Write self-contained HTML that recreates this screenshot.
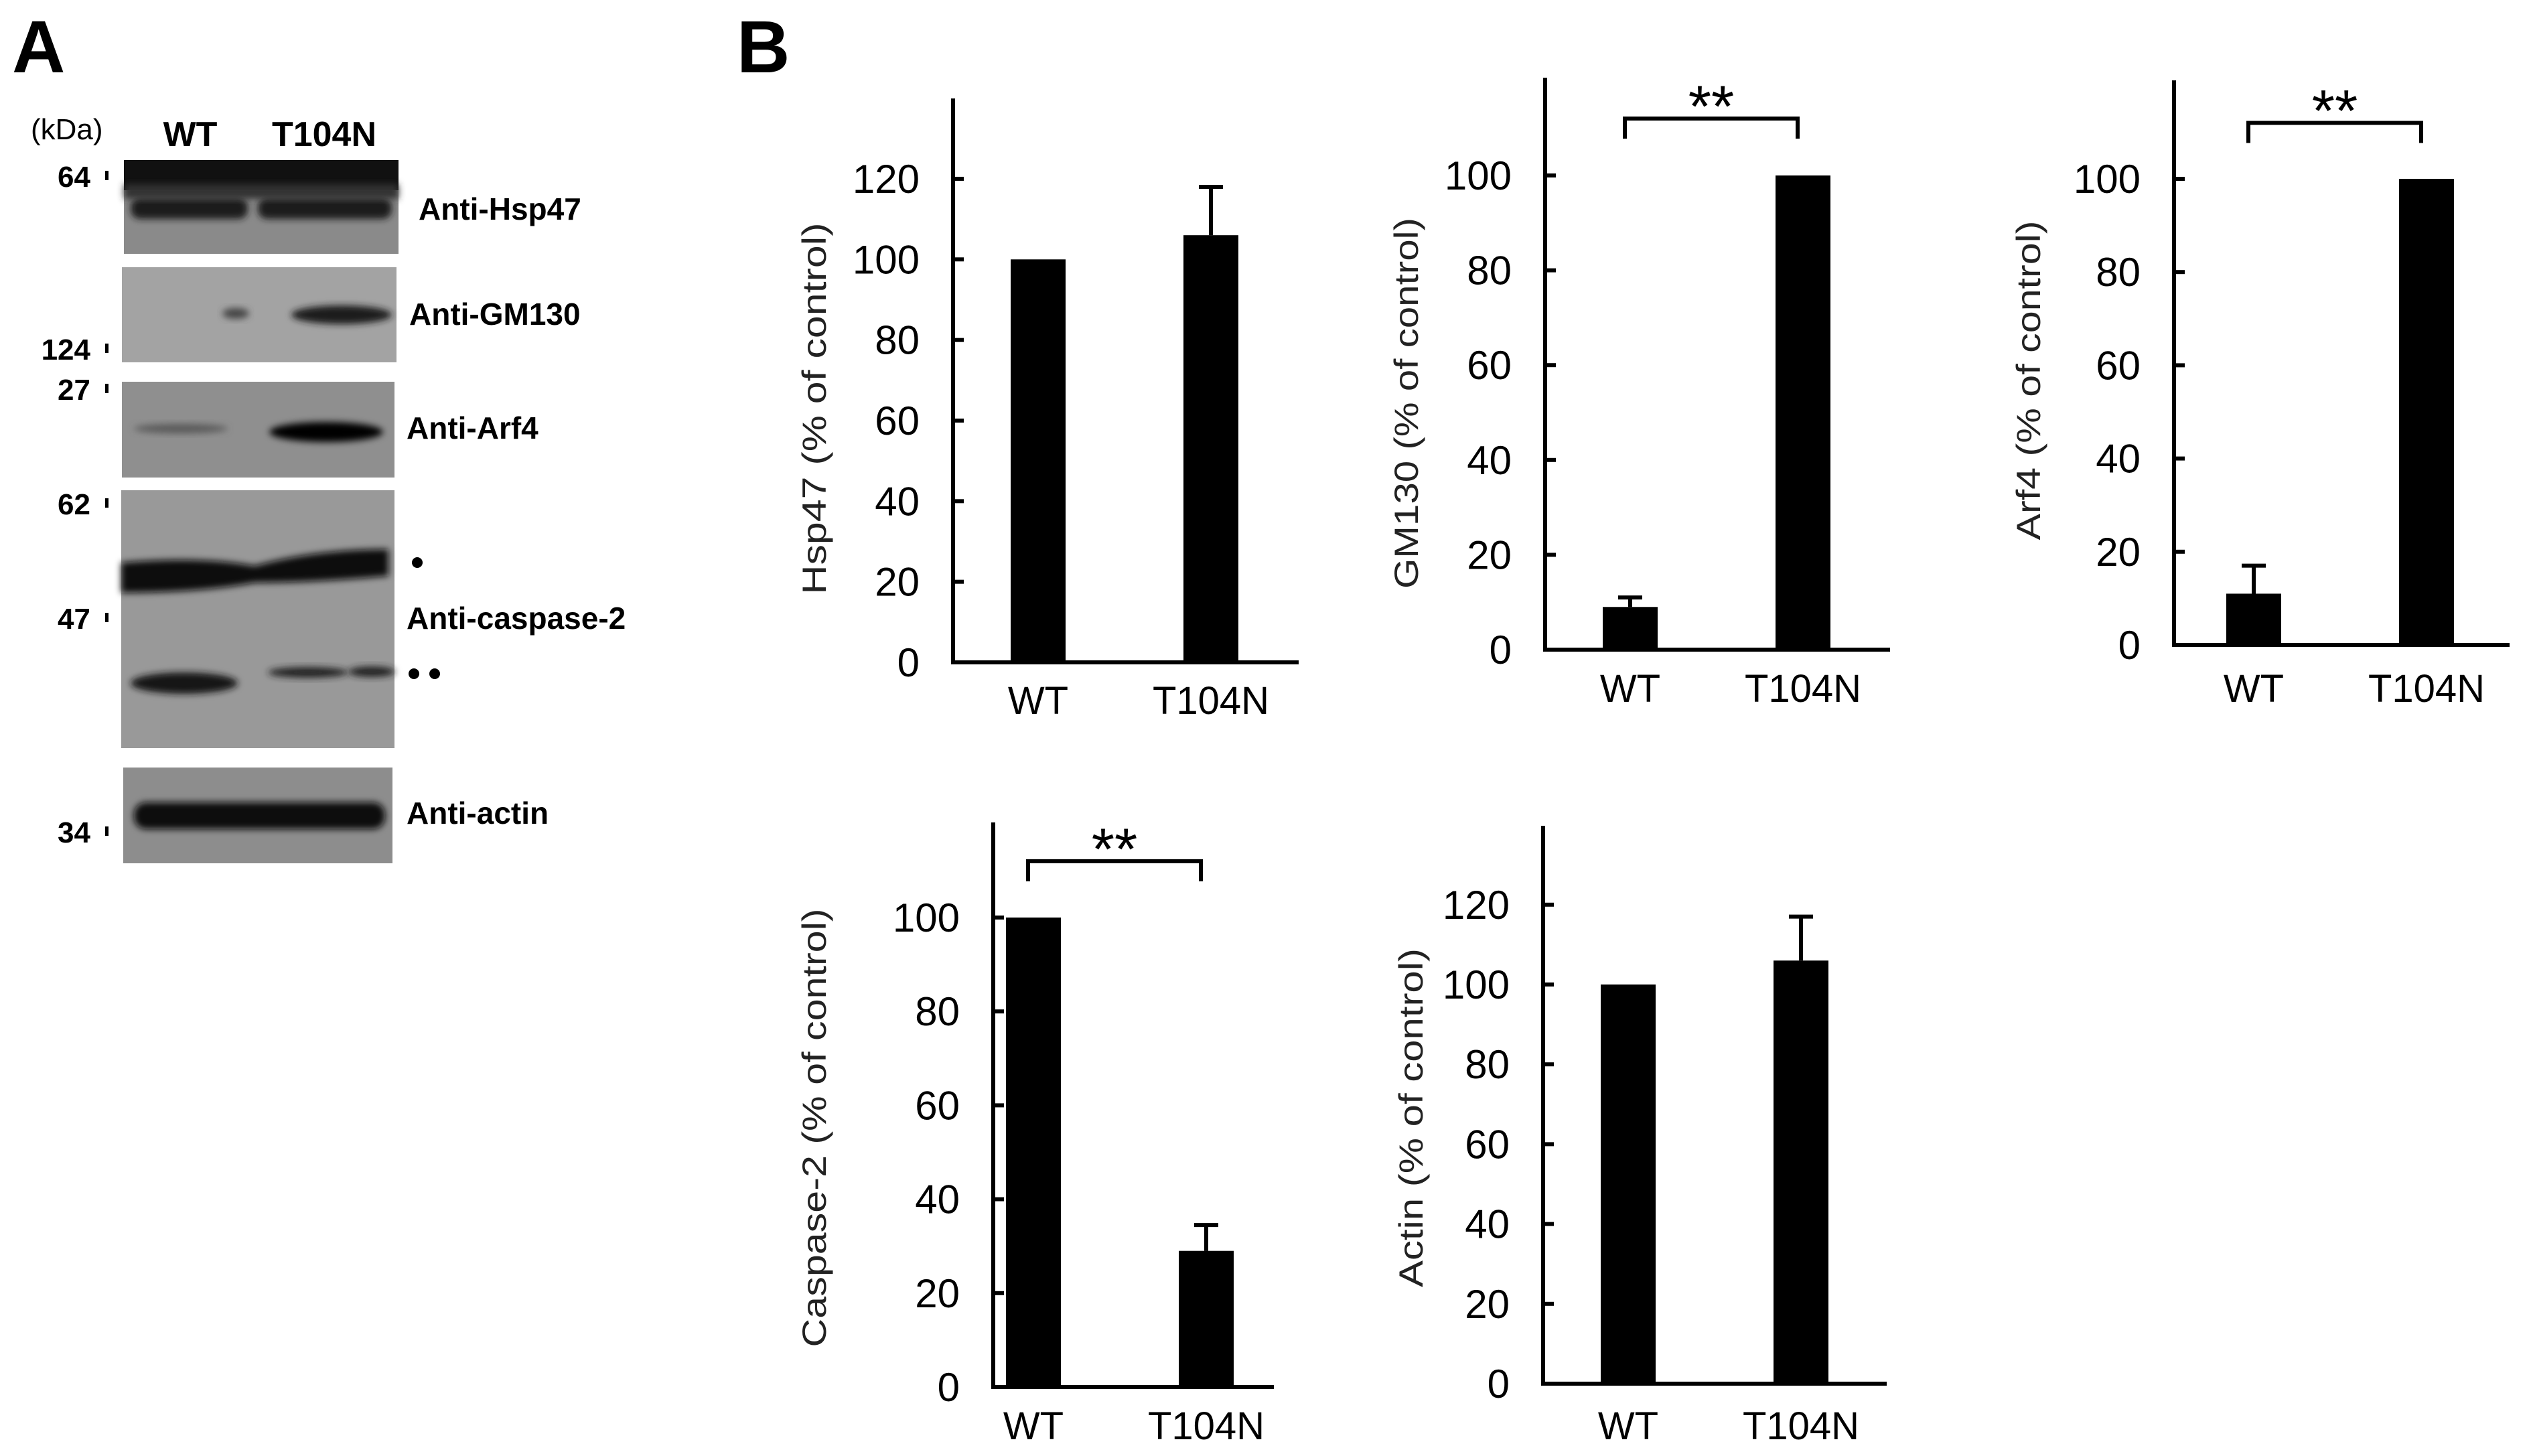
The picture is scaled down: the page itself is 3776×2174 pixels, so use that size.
<!DOCTYPE html>
<html><head><meta charset="utf-8"><style>
html,body{margin:0;padding:0;background:#fff;}
svg{display:block;}
text{font-family:"Liberation Sans",sans-serif;}
</style></head><body>
<svg id="fig" width="3776" height="2174" viewBox="0 0 3776 2174" xmlns="http://www.w3.org/2000/svg">
<defs>
<filter id="blur" x="-20%" y="-50%" width="140%" height="200%"><feGaussianBlur stdDeviation="9"/></filter>
<filter id="blur2" x="-20%" y="-50%" width="140%" height="200%"><feGaussianBlur stdDeviation="5"/></filter>
</defs>
<text x="18" y="108" font-size="110" font-weight="bold">A</text>
<text x="1100" y="108" font-size="110" font-weight="bold">B</text>

<g>
<text x="46" y="208" font-size="44">(kDa)</text>
<text x="284" y="218" font-size="52" font-weight="bold" text-anchor="middle">WT</text>
<text x="484" y="218" font-size="52" font-weight="bold" text-anchor="middle">T104N</text>

<g>
<rect x="185" y="239" width="410" height="140" fill="#8a8a8a"/>
<rect x="185" y="239" width="410" height="45" fill="#111"/>
<rect x="195" y="295" width="175" height="32" rx="14" fill="#1a1a1a" filter="url(#blur2)"/>
<rect x="385" y="295" width="200" height="32" rx="14" fill="#1a1a1a" filter="url(#blur2)"/>
<rect x="185" y="275" width="410" height="22" fill="#333" filter="url(#blur2)"/>
</g>
<g>
<rect x="182" y="399" width="410" height="142" fill="#a3a3a3"/>
<ellipse cx="352" cy="468" rx="20" ry="8" fill="#444" filter="url(#blur2)"/>
<ellipse cx="510" cy="470" rx="75" ry="14" fill="#1c1c1c" filter="url(#blur2)"/>
</g>
<g>
<rect x="182" y="570" width="407" height="143" fill="#8f8f8f"/>
<ellipse cx="270" cy="640" rx="70" ry="7" fill="#5a5a5a" filter="url(#blur2)"/>
<ellipse cx="487" cy="645" rx="85" ry="15" fill="#000" filter="url(#blur2)"/>
</g>
<g>
<rect x="181" y="732" width="408" height="385" fill="#999"/>
<path d="M181 840 Q300 830 380 845 Q470 820 580 820 L580 860 Q470 870 380 870 Q300 885 181 885 Z" fill="#0a0a0a" filter="url(#blur2)"/>
<ellipse cx="275" cy="1020" rx="80" ry="16" fill="#151515" filter="url(#blur2)"/>
<ellipse cx="460" cy="1004" rx="60" ry="8" fill="#222" filter="url(#blur2)"/>
<ellipse cx="555" cy="1003" rx="35" ry="8" fill="#222" filter="url(#blur2)"/>
</g>
<g>
<rect x="184" y="1146" width="402" height="143" fill="#8d8d8d"/>
<rect x="200" y="1198" width="375" height="40" rx="18" fill="#111" filter="url(#blur2)"/>
</g>

<g font-size="44" font-weight="bold" text-anchor="end">
<text x="135" y="279">64</text>
<text x="135" y="537">124</text>
<text x="135" y="597">27</text>
<text x="135" y="768">62</text>
<text x="135" y="939">47</text>
<text x="135" y="1258">34</text>
</g>
<g fill="#000">
<rect x="157" y="255" width="5" height="14"/><rect x="157" y="513" width="5" height="14"/>
<rect x="157" y="573" width="5" height="14"/><rect x="157" y="744" width="5" height="14"/>
<rect x="157" y="915" width="5" height="14"/><rect x="157" y="1234" width="5" height="14"/>
</g>
<g font-size="46" font-weight="bold">
<text x="625" y="328">Anti-Hsp47</text>
<text x="611" y="485">Anti-GM130</text>
<text x="607" y="655">Anti-Arf4</text>
<text x="607" y="939">Anti-caspase-2</text>
<text x="607" y="1230">Anti-actin</text>
</g>
<circle cx="623" cy="840" r="8" fill="#000"/>
<circle cx="618" cy="1006" r="8" fill="#000"/>
<circle cx="649" cy="1006" r="8" fill="#000"/>
</g>
<g id="charts"></g>
</svg>
<script>
const categories = ["WT", "T104N"];
const chartTitles = ["Hsp47 (% of control)", "GM130 (% of control)", "Arf4 (% of control)", "Caspase-2 (% of control)", "Actin (% of control)"];
const chartNames = ["hsp47", "gm130", "arf4", "caspase2", "actin"];
const hsp47Values = [100, 106];
const hsp47Errors = [0, 12];
const gm130Values = [9, 100];
const gm130Errors = [2, 0];
const arf4Values = [11, 100];
const arf4Errors = [6, 0];
const caspase2Values = [100, 29];
const caspase2Errors = [0, 5.5];
const actinValues = [100, 106];
const actinErrors = [0, 11];
const tickMax = [120, 100, 100, 100, 120];
const significance = ["", "**", "**", "**", ""];

const allValues = [hsp47Values, gm130Values, arf4Values, caspase2Values, actinValues];
const allErrors = [hsp47Errors, gm130Errors, arf4Errors, caspase2Errors, actinErrors];
// layout (pixels)
const layout = [
 {ax:1423, base:989, top:147, right:1939, ppu:6.017, tx:1216, ty:610, tl:555, xly:1066, off:127},
 {ax:2307, base:970, top:116, right:2822, ppu:7.08, tx:2100, ty:602, tl:554, xly:1048, off:127},
 {ax:3246, base:963, top:120, right:3747, ppu:6.96, tx:3029, ty:568, tl:477, xly:1048, off:119},
 {ax:1483, base:2071, top:1228, right:1902, ppu:7.01, tx:1216, ty:1684, tl:655, xly:2149, off:60},
 {ax:2304, base:2066, top:1233, right:2817, ppu:5.96, tx:2107, ty:1669, tl:506, xly:2149, off:127}
];
const NS = "http://www.w3.org/2000/svg";
const root = document.getElementById("charts");
function mk(tag, attrs, parent){const e=document.createElementNS(NS,tag);for(const k in attrs)e.setAttribute(k,attrs[k]);parent.appendChild(e);return e;}
layout.forEach((L, ci) => {
  const g = mk("g", {}, root);
  
  
  const y = v => L.base - v * L.ppu;
  const xc = i => L.ax + L.off + i * 258;
  const ya = mk("line", {x1:L.ax, y1:L.top, x2:L.ax, y2:L.base+3, stroke:"#000","stroke-width":6}, g);
  
  
  const xa = mk("line", {x1:L.ax-3, y1:L.base, x2:L.right, y2:L.base, stroke:"#000","stroke-width":6}, g);
  
  
  for (let t = 0; t <= tickMax[ci]; t += 20) {
    if (t > 0) mk("line", {x1:L.ax, y1:y(t), x2:L.ax+16, y2:y(t), stroke:"#000","stroke-width":6}, g);
    const tl = mk("text", {x:L.ax-50, y:y(t)+21, "font-size":60, "text-anchor":"end"}, g);
    tl.textContent = t;
    
    
  }
  const title = mk("text", {x:0, y:0, "font-size":50, fill:"#222", "text-anchor":"middle", textLength:L.tl, lengthAdjust:"spacingAndGlyphs", transform:`translate(${L.tx+17},${L.ty}) rotate(-90)`}, g);
  title.textContent = chartTitles[ci];
  
  
  categories.forEach((c, i) => {
    const v = allValues[ci][i], e = allErrors[ci][i];
    const b = mk("rect", {x:xc(i)-41, y:y(v), width:82, height:L.base - y(v), fill:"#000"}, g);
    
    
    if (e > 0) {
      const eb = mk("path", {d:`M${xc(i)} ${y(v)} V${y(v+e)} M${xc(i)-18} ${y(v+e)} H${xc(i)+18}`, stroke:"#000", "stroke-width":6, fill:"none"}, g);
      
      
    }
    const xl = mk("text", {x:xc(i), y:L.xly, "font-size":58, "text-anchor":"middle"}, g);
    xl.textContent = c;
    
    
  });
  if (significance[ci]) {
    const by = y(112);
    const br = mk("path", {d:`M${xc(0)-8} ${by+30} V${by} H${xc(1)-8} V${by+30}`, stroke:"#000", "stroke-width":6, fill:"none"}, g);
    
    
    const st = mk("text", {x:(xc(0)+xc(1))/2 - 8, y:by + 12, "font-size":88, "text-anchor":"middle"}, g);
    st.textContent = significance[ci];
    
    
  }
});
</script>
</body></html>
